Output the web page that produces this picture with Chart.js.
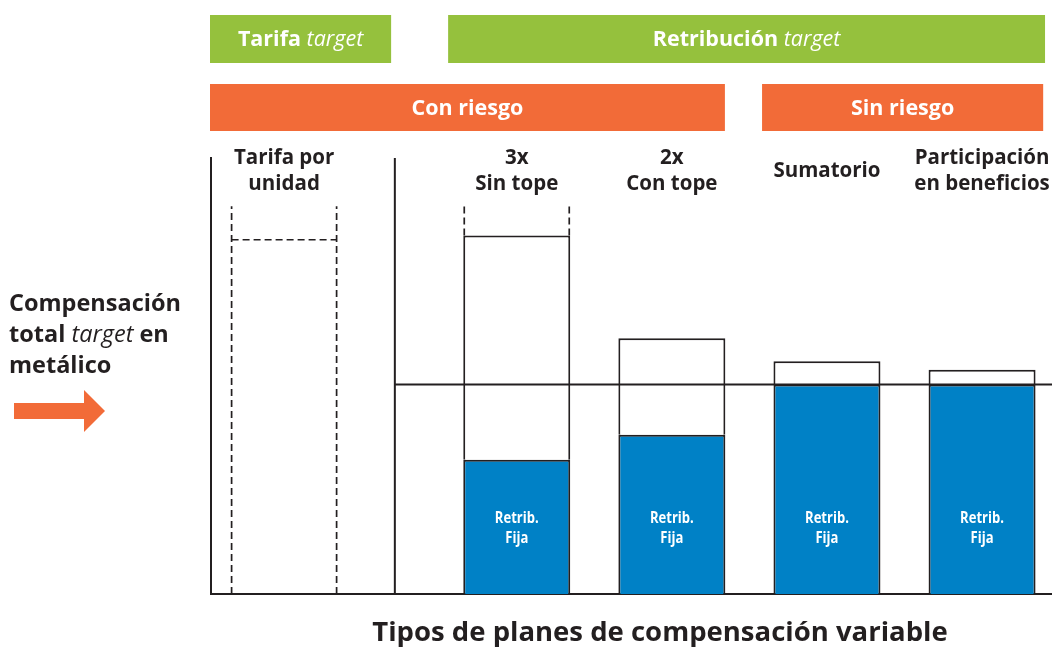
<!DOCTYPE html>
<html>
<head>
<meta charset="utf-8">
<script src="https://cdn.jsdelivr.net/npm/chart.js@4.4.1/dist/chart.umd.min.js"></script>
<style>
  html, body { margin: 0; padding: 0; overflow: hidden; background: #ffffff; width: 1052px; height: 648px; }
  canvas { display: block; }
</style>
</head>
<body>
<canvas id="chart" width="1110" height="648"></canvas>
<script>
// ---------------- DATA ----------------
const planLabels = [['Tarifa por', 'unidad'], ['3x', 'Sin tope'], ['2x', 'Con tope'], ['Sumatorio'], ['Participación', 'en beneficios']];
const planFamily = ['Tarifa', 'Con riesgo', 'Con riesgo', 'Sin riesgo', 'Sin riesgo'];
const fixedPay = [null, 64, 76, 100, 100];          // Retrib. Fija (blue)
const variablePay = [null, 107, 46, 11, 7];          // variable part on top (white)
const unitRateTarget = [169, null, null, null, null]; // dashed outline (tarifa por unidad)
const uncappedMarker = [185, 185, null, null, null];  // dashed "sin tope" extension
const targetTotalCash = 100;                          // compensación total target
const fixedPayLabel = ['Retrib.', 'Fija'];
const axisTitle = 'Tipos de planes de compensación variable';
const sideLabel = [[['Compensación', 'b']], [['total ', 'b'], ['target', 'i'], [' en', 'b']], [['metálico', 'b']]];
const bannerTexts = [[['Tarifa ', 'target'], ['Retribución ', 'target']], [['Con riesgo', ''], ['Sin riesgo', '']]];

// ---------------- STYLE ----------------
const BLUE = '#0081c6', GREEN = '#95c13d', ORANGE = '#f26b38', INK = '#231f20';
const FAMILY = '"Open Sans", Lato, sans-serif';
const bold = s => `bold ${s}px ${FAMILY}`;
const ital = s => `italic ${s}px ${FAMILY}`;

// banner layout, in x-axis units
const bannerSpans = [[[-0.236, 0.345], [0.532, 2.453]], [[-0.236, 1.421], [1.544, 2.447]]];
const bannerRowsPx = [[15, 48, GREEN], [84, 47, ORANGE]];
const separatorAt = 0.357;

// ---------------- BUILD DATASETS ----------------
const families = [...new Set(planFamily)];
const slotOf = [];
const seen = {};
planFamily.forEach((f, i) => { slotOf[i] = seen[f] || 0; seen[f] = slotOf[i] + 1; });
const nSlots = Math.max(...slotOf) + 1;
const planRef = [];
const datasets = [];
const common = {
  skipNull: true, categoryPercentage: 1, barPercentage: 0.7, maxBarThickness: 107,
  borderColor: INK, borderWidth: 2
};
for (let s = 0; s < nSlots; s++) {
  const fixedData = [], varData = [];
  planFamily.forEach((f, i) => {
    if (slotOf[i] !== s || fixedPay[i] == null) return;
    planRef[i] = { ds: datasets.length, idx: fixedData.length };
    fixedData.push({ x: families.indexOf(f), y: fixedPay[i] });
    varData.push({ x: families.indexOf(f), y: variablePay[i] });
  });
  datasets.push({ ...common, label: 'Retribución fija', stack: 'slot' + s, data: fixedData, backgroundColor: BLUE });
  datasets.push({ ...common, label: 'Retribución variable', stack: 'slot' + s, data: varData, backgroundColor: '#ffffff' });
}
const unitDs = datasets.length;
const unitData = [];
planFamily.forEach((f, i) => {
  if (unitRateTarget[i] == null) return;
  planRef[i] = { ds: unitDs, idx: unitData.length };
  unitData.push({ x: families.indexOf(f), y: unitRateTarget[i] });
});
datasets.push({ ...common, label: 'Tarifa', stack: 'slot0', data: unitData, backgroundColor: 'rgba(0,0,0,0)', borderWidth: 0 });

function drawRich(ctx, parts, x, y, align) {
  let total = 0;
  parts.forEach(p => { ctx.font = p[1]; total += ctx.measureText(p[0]).width; });
  let cx = align === 'center' ? x - total / 2 : x;
  ctx.textAlign = 'left';
  parts.forEach(p => { ctx.font = p[1]; ctx.fillText(p[0], cx, y); cx += ctx.measureText(p[0]).width; });
}

const decorations = {
  id: 'decorations',
  afterDatasetsDraw(chart) {
    const { ctx, chartArea: ca, scales: { x, y } } = chart;
    ctx.save();
    // separator + target line
    const sx = x.getPixelForValue(separatorAt);
    ctx.strokeStyle = INK; ctx.lineWidth = 2;
    ctx.beginPath();
    ctx.moveTo(sx, ca.top); ctx.lineTo(sx, ca.bottom);
    ctx.moveTo(sx, y.getPixelForValue(targetTotalCash)); ctx.lineTo(ca.right, y.getPixelForValue(targetTotalCash));
    ctx.stroke();

    // dashed outlines
    ctx.setLineDash([7, 4]); ctx.lineWidth = 1.7;
    planLabels.forEach((_, i) => {
      const ref = planRef[i];
      if (!ref || uncappedMarker[i] == null) return;
      const el = chart.getDatasetMeta(ref.ds).data[ref.idx];
      const l = el.x - el.width / 2 + 1, r = el.x + el.width / 2 - 1;
      const startVal = fixedPay[i] != null ? fixedPay[i] + variablePay[i] : 0;
      const y0 = y.getPixelForValue(startVal), y1 = y.getPixelForValue(uncappedMarker[i]);
      ctx.beginPath();
      ctx.moveTo(l, y0); ctx.lineTo(l, y1);
      ctx.moveTo(r, y0); ctx.lineTo(r, y1);
      if (unitRateTarget[i] != null) {
        const yt = y.getPixelForValue(unitRateTarget[i]);
        ctx.moveTo(l, yt); ctx.lineTo(r, yt);
      }
      ctx.stroke();
    });
    ctx.setLineDash([]);

    // fixed pay labels (slightly condensed look)
    ctx.fillStyle = '#ffffff'; ctx.textBaseline = 'middle';
    const ly = y.getPixelForValue(31.5);
    planLabels.forEach((_, i) => {
      if (fixedPay[i] == null) return;
      const el = chart.getDatasetMeta(planRef[i].ds).data[planRef[i].idx];
      fixedPayLabel.forEach((t, j) => {
        ctx.save();
        ctx.translate(el.x, ly + (j === 0 ? -10 : 10));
        ctx.scale(0.9, 1.15);
        drawRich(ctx, [[t, bold(14.5)]], 0, 0, 'center');
        ctx.restore();
      });
    });
    ctx.restore();
  },
  afterDraw(chart) {
    const { ctx, chartArea: ca, scales: { x } } = chart;
    ctx.save();
    ctx.textBaseline = 'middle';
    // banners
    bannerSpans.forEach((row, r) => {
      const [top, h, col] = bannerRowsPx[r];
      row.forEach((span, k) => {
        const x0 = Math.max(x.getPixelForValue(span[0]), ca.left) - 1;
        const x1 = x.getPixelForValue(span[1]);
        ctx.fillStyle = col;
        ctx.fillRect(x0, top, x1 - x0, h);
        ctx.fillStyle = '#ffffff';
        const t = bannerTexts[r][k];
        const parts = [[t[0], bold(21.5)]];
        if (t[1]) parts.push([t[1], ital(21.5)]);
        drawRich(ctx, parts, (x0 + x1) / 2, top + h / 2 + 1, 'center');
      });
    });
    // plan headers
    ctx.fillStyle = INK;
    planLabels.forEach((lines, i) => {
      const el = chart.getDatasetMeta(planRef[i].ds).data[planRef[i].idx];
      const cy = ca.top + 13;
      lines.forEach((ln, j) => {
        drawRich(ctx, [[ln, bold(20.5)]], el.x, cy + (j - (lines.length - 1) / 2) * 26, 'center');
      });
    });
    // side label
    sideLabel.forEach((parts, j) => {
      drawRich(ctx, parts.map(p => [p[0], p[1] === 'b' ? bold(23.5) : ital(23.5)]), 9, 304 + j * 31, 'left');
    });
    // arrow
    ctx.fillStyle = ORANGE;
    ctx.beginPath();
    ctx.moveTo(14, 403); ctx.lineTo(84, 403); ctx.lineTo(84, 390); ctx.lineTo(105, 411);
    ctx.lineTo(84, 432); ctx.lineTo(84, 419); ctx.lineTo(14, 419); ctx.closePath();
    ctx.fill();
    ctx.restore();
  }
};

new Chart(document.getElementById('chart'), {
  type: 'bar',
  data: { datasets },
  options: {
    responsive: false,
    animation: false,
    layout: { padding: { left: 211, top: 158, right: 1, bottom: 0 } },
    plugins: { legend: { display: false }, tooltip: { enabled: false } },
    scales: {
      x: {
        type: 'linear', offset: false, min: -0.23565, max: 2.6592,
        grid: { display: false, drawTicks: false },
        ticks: { display: false, stepSize: 1, includeBounds: false },
        border: { display: true, color: INK, width: 2 },
        title: { display: true, text: axisTitle, color: INK, font: { family: FAMILY, size: 27.5, weight: 'bold' }, padding: { top: 23, bottom: -2 } }
      },
      y: {
        stacked: true, min: 0, max: 208,
        grid: { display: false, drawTicks: false },
        ticks: { display: false },
        border: { display: true, color: INK, width: 2 }
      }
    }
  },
  plugins: [decorations]
});
</script>
</body>
</html>
